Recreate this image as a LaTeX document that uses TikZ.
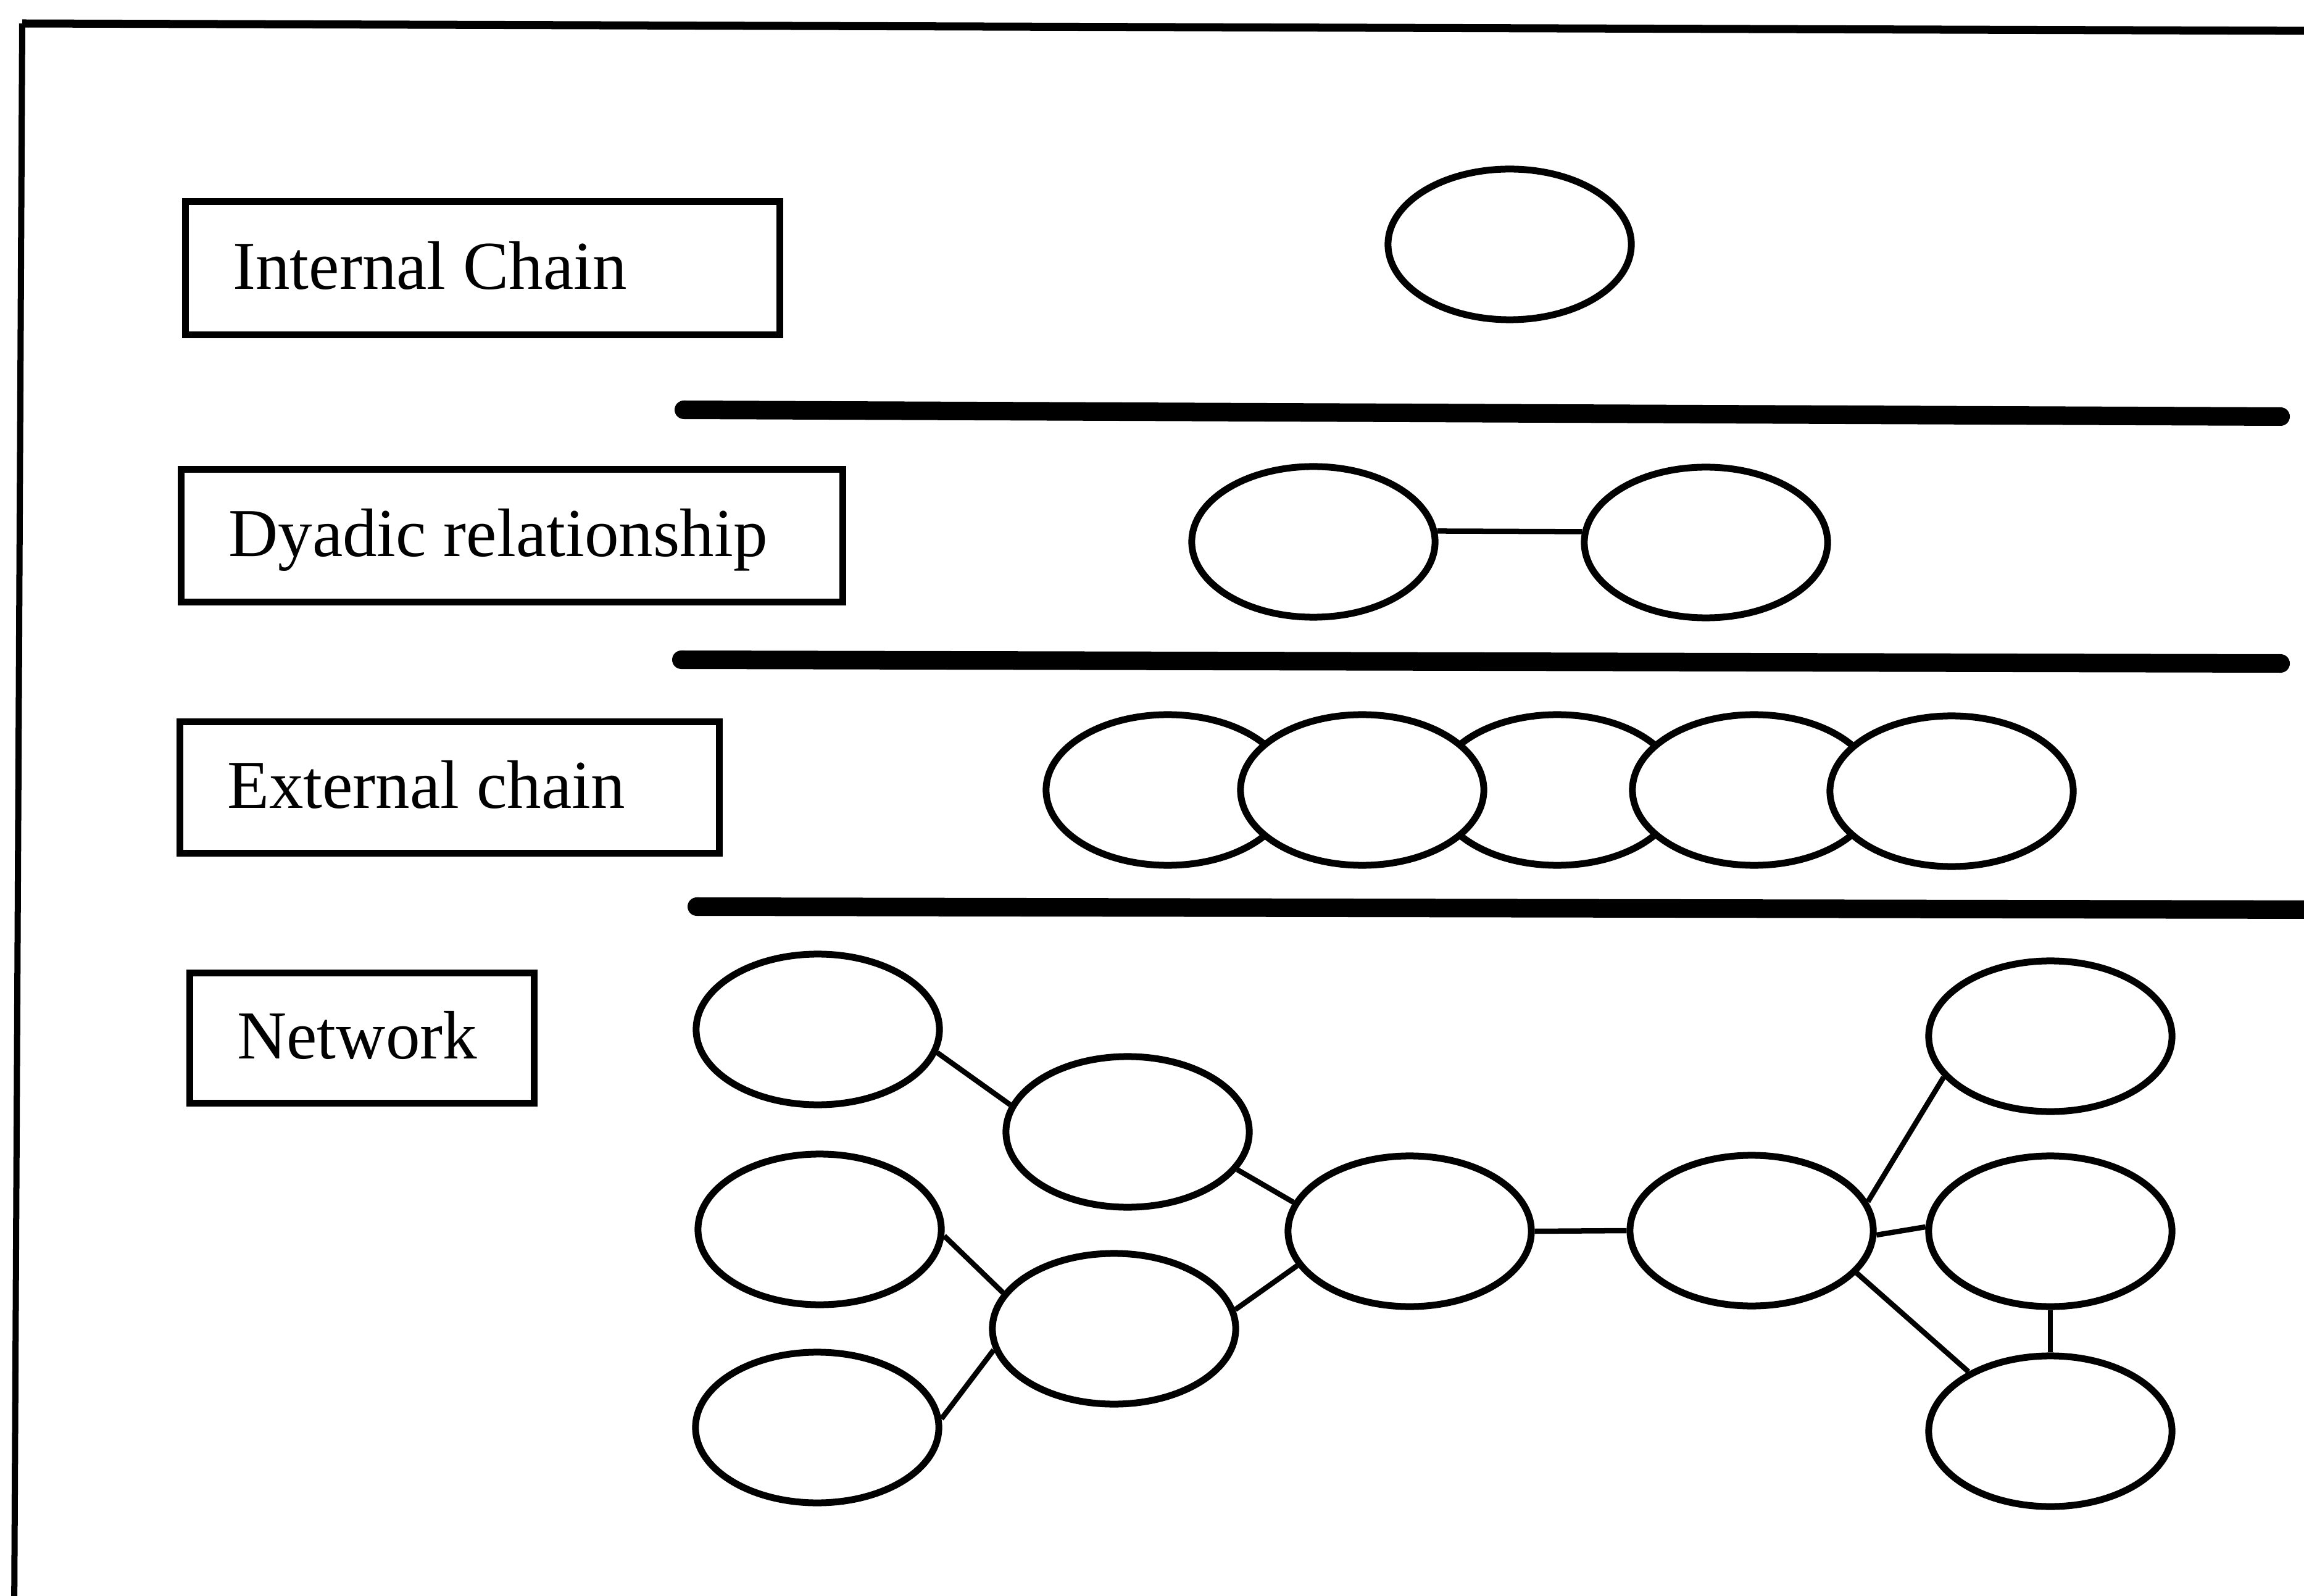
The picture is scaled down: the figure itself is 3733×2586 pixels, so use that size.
\documentclass[tikz,border=0pt]{standalone}
\usepackage{fontspec}
\setmainfont{Liberation Serif}
\usetikzlibrary{shapes.geometric}
\begin{document}
\begin{tikzpicture}[x=0.01cm,y=-0.01cm,
  ell/.style={ellipse, draw, line width=0.11cm, fill=white, inner sep=0pt,
              minimum width=3.94cm, minimum height=2.44cm},
  tag/.style={rectangle, draw, line width=0.11cm, inner xsep=0.77cm, inner ysep=0pt,
              text height=0.83cm, text depth=0.155cm,
              font=\fontsize{31.6}{38}\selectfont},
  link/.style={line width=0.085cm},
  rule/.style={line width=0.3cm, line cap=round},
]
\useasboundingbox (0,0) rectangle (3733,2586);
\fill[white] (0,0) rectangle (3733,2586);

% outer frame (top and left edges)
\coordinate (fTL) at (36,38);
\coordinate (fTR) at (3760,50);
\coordinate (fBL) at (23,2620);
\draw[line width=0.13cm] (fTL) -- (fTR);
\draw[line width=0.1cm] (fTL) -- (fBL);

% row labels
\node[tag, minimum height=2.15cm] (lblInt) at (782,434.5)  {\makebox[8.09cm][l]{Internal Chain}};
\node[tag, minimum height=2.15cm] (lblDy)  at (829.5,868)  {\makebox[9.18cm][l]{Dyadic relationship}};
\node[tag, minimum height=2.13cm] (lblExt) at (728.5,1276) {\makebox[7.20cm][l]{External chain}};
\node[tag, minimum height=2.11cm] (lblNet) at (586.5,1682) {\makebox[4.04cm][l]{Network}};

% separators between rows
\draw[rule] (1108,664)  -- (3695,675);
\draw[rule] (1104,1069) -- (3695,1075);
\draw[rule] (1129,1469) -- (3780,1474);

% internal chain
\node[ell] (inner) at (2446,396) {};

% dyadic relationship
\node[ell] (dyL) at (2128,878) {};
\node[ell] (dyR) at (2764,879) {};
\draw[link] (dyL.5) -- (dyR.175);

% external chain (overlapping links)
\node[ell] (ex1) at (1892,1280) {};
\node[ell] (ex3) at (2523,1280) {};
\node[ell] (ex2) at (2207,1280) {};
\node[ell] (ex4) at (2842,1280) {};
\node[ell] (ex5) at (3162,1282) {};

% network
\node[ell] (nA) at (1325,1668) {};
\node[ell] (nB) at (1827,1834) {};
\node[ell] (nC) at (1328,1992) {};
\node[ell] (nD) at (1805,2153) {};
\node[ell] (nE) at (1324,2313) {};
\node[ell] (nF) at (2284,1995) {};
\node[ell] (nG) at (2838,1994) {};
\node[ell] (nH) at (3322,1679) {};
\node[ell] (nI) at (3322,1995) {};
\node[ell] (nJ) at (3322,2319) {};

\draw[link] (nA.-11.5) -- (nB.167.7);
\draw[link] (nB.-19)   -- (nF.166);
\draw[link] (nC.-3)    -- (nD.162);
\draw[link] (nE.4)     -- (nD.190);
\draw[link] (nD.9)     -- (nF.197);
\draw[link] (nF.east)  -- (nG.west);
\draw[link] (nG.14)    -- (nH.201);
\draw[link] (nG.-2)    -- (nI.178);
\draw[link] (nG.-22)   -- (nJ.144);
\draw[link] (nI.south) -- (nJ.north);
\end{tikzpicture}
\end{document}
